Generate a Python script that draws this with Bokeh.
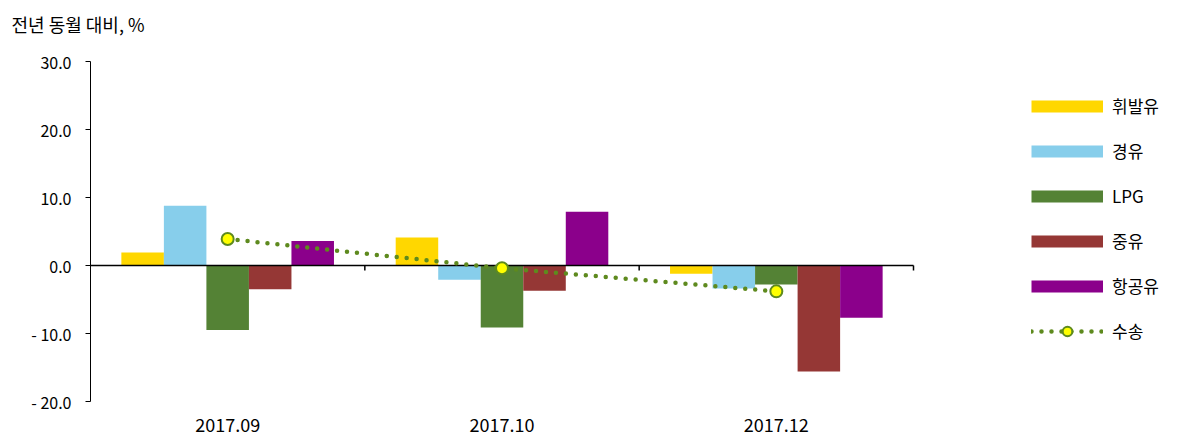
from bokeh.plotting import figure
from bokeh.models import (ColumnDataSource, Range1d, FixedTicker, CustomJSTickFormatter,
                          Title, Legend, LegendItem)
from bokeh.transform import dodge
from bokeh.embed import file_html
from bokeh.resources import INLINE

cats = ["2017.09", "2017.10", "2017.12"]
gasoline = [1.9, 4.1, -1.2]     # 휘발유
diesel = [8.8, -2.1, -3.4]      # 경유
lpg = [-9.5, -9.1, -2.8]        # LPG
bunker = [-3.5, -3.7, -15.6]    # 중유
jet = [3.6, 7.9, -7.7]          # 항공유
transport = [3.9, -0.4, -3.8]   # 수송
y_ticks = [-20, -10, 0, 10, 20, 30]

series_names = ["휘발유", "경유", "LPG", "중유", "항공유"]
series_keys = ["gasoline", "diesel", "lpg", "bunker", "jet"]
colors = ["#FFD700", "#87CEEB", "#548235", "#953735", "#8B008B"]
line_color = "#5E8A1E"
FONT = "Noto Sans CJK KR"

n = len(cats)
pos = [i + 0.5 for i in range(n)]          # category centres on a numeric scale
bounds = [i + 1.0 for i in range(n)]       # category boundaries
src = ColumnDataSource(dict(x=pos, cat=cats, gasoline=gasoline, diesel=diesel, lpg=lpg,
                            bunker=bunker, jet=jet, transport=transport))

W, H = 1200, 443
left, top, bottom = 90, 61, 42
plot_w = 823                                # width taken by the three categories
x_end = n * (W - left) / plot_w

p = figure(width=W, height=H, x_range=Range1d(0, x_end), y_range=Range1d(-20, 30),
           output_backend="svg", toolbar_location=None,
           min_border_left=left, min_border_right=0, min_border_top=top, min_border_bottom=bottom)
p.outline_line_color = None
p.xgrid.grid_line_color = None
p.ygrid.grid_line_color = None

bw = 0.155
offsets = [-2 * bw, -bw, 0, bw, 2 * bw]
items = []
nan = float("nan")
for key, name, col, off in zip(series_keys, series_names, colors, offsets):
    p.vbar(x=dodge("x", off), top=key, bottom=0, width=bw, source=src,
           fill_color=col, line_color=None)
    swatch = p.line(x=[nan], y=[nan], line_color=col, line_width=12, line_cap="butt")
    items.append(LegendItem(label=name, renderers=[swatch]))

# horizontal category axis drawn at y = 0, with boundary ticks
p.segment(x0=[0], x1=[float(n)], y0=[0], y1=[0], line_color="black", line_width=1.5)
p.segment(x0=bounds, x1=bounds, y0=[0] * n, y1=[-0.75] * n, line_color="black", line_width=1.5)

ln = p.line(x="x", y="transport", source=src, line_color=line_color, line_width=4.5,
            line_dash="0 10", line_cap="round")
sc = p.scatter(x="x", y="transport", source=src, size=12, fill_color="#FFFF00",
               line_color=line_color, line_width=2)
items.append(LegendItem(label="수송", renderers=[ln, sc]))

# value axis
p.yaxis.ticker = FixedTicker(ticks=y_ticks)
p.yaxis.bounds = (min(y_ticks), max(y_ticks))
p.yaxis.formatter = CustomJSTickFormatter(
    code="return tick < 0 ? '- ' + Math.abs(tick).toFixed(1) : tick.toFixed(1);")
p.yaxis.major_tick_in = 0
p.yaxis.major_tick_out = 5
p.yaxis.minor_tick_line_color = None
p.yaxis.axis_line_color = "black"
p.yaxis.major_tick_line_color = "black"
p.yaxis.major_label_standoff = 14
p.yaxis.major_label_text_font = FONT
p.yaxis.major_label_text_font_size = "16px"
p.yaxis.major_label_text_color = "black"

# category labels
p.xaxis.ticker = FixedTicker(ticks=pos)
p.xaxis.major_label_overrides = {x: c for x, c in zip(pos, cats)}
p.xaxis.axis_line_color = None
p.xaxis.major_tick_line_color = None
p.xaxis.minor_tick_line_color = None
p.xaxis.major_label_standoff = 10
p.xaxis.major_label_text_font = FONT
p.xaxis.major_label_text_font_size = "18px"
p.xaxis.major_label_text_color = "black"

p.add_layout(Title(text="전년 동월 대비, %\n ", align="left", offset=-79, vertical_align="bottom",
                   standoff=0, text_font=FONT, text_font_size="18px", text_font_style="normal",
                   text_line_height=0.96, text_color="black"), "above")

legend = Legend(items=items, location=(941, 58), orientation="vertical",
                glyph_width=72, glyph_height=24, label_height=24, spacing=20,
                label_standoff=9, padding=0, margin=0,
                border_line_color=None, background_fill_alpha=0,
                label_text_font=FONT, label_text_font_size="17px", label_text_color="black")
p.add_layout(legend)

open("out.html", "w").write(file_html(p, INLINE))
